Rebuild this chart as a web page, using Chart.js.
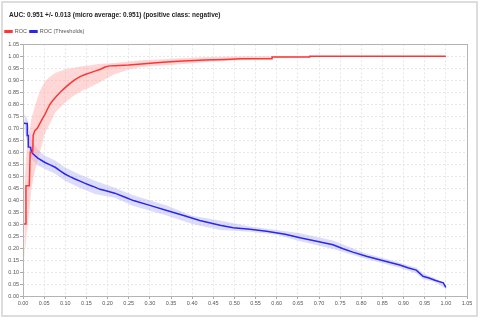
<!DOCTYPE html>
<html>
<head>
<meta charset="utf-8">
<script src="https://cdn.jsdelivr.net/npm/chart.js@4/dist/chart.umd.min.js"></script>
<style>
  html, body { margin: 0; padding: 0; background: #fff; }
  #wrap { width: 480px; height: 320px; }
</style>
</head>
<body>
<div id="wrap"><canvas id="rocChart" width="480" height="320"></canvas></div>
<script>
// ROC curve (false positive rate, true positive rate)
const rocX = [0, 0, 0.007, 0.007, 0.015, 0.017, 0.023, 0.024, 0.028, 0.034, 0.040, 0.046, 0.052, 0.058, 0.064, 0.070, 0.076, 0.088, 0.099, 0.110, 0.123, 0.135, 0.147, 0.160, 0.170, 0.182, 0.194, 0.206, 0.217, 0.250, 0.280, 0.330, 0.378, 0.430, 0.480, 0.513, 0.589, 0.589, 0.678, 0.678, 1.0];
const rocY = [0, 0.30, 0.30, 0.46, 0.46, 0.60, 0.60, 0.67, 0.69, 0.70, 0.72, 0.74, 0.758, 0.78, 0.80, 0.815, 0.827, 0.85, 0.868, 0.885, 0.903, 0.915, 0.924, 0.932, 0.938, 0.945, 0.955, 0.960, 0.961, 0.964, 0.968, 0.975, 0.980, 0.984, 0.987, 0.990, 0.990, 0.997, 0.997, 1.0, 1.0];

// ROC band (mean +/- std)
const rocBandX  = [0.003, 0.008, 0.015, 0.020, 0.028, 0.040, 0.052, 0.064, 0.076, 0.099, 0.120, 0.139, 0.160, 0.178, 0.200, 0.217, 0.250, 0.280, 0.330, 0.378, 0.450, 0.537, 0.600, 0.700, 1.0];
const rocBandLo = [0.15, 0.25, 0.35, 0.45, 0.52, 0.60, 0.68, 0.72, 0.765, 0.806, 0.835, 0.855, 0.872, 0.889, 0.910, 0.925, 0.945, 0.955, 0.962, 0.968, 0.978, 0.986, 0.993, 0.998, 1.0];
const rocBandHi = [0.45, 0.60, 0.68, 0.74, 0.79, 0.855, 0.896, 0.915, 0.930, 0.945, 0.952, 0.958, 0.963, 0.968, 0.970, 0.972, 0.978, 0.983, 0.988, 0.993, 0.997, 1.0, 1.0, 1.0, 1.0];

// ROC (Thresholds)
const thrX = [0, 0, 0.005, 0.010, 0.010, 0.0125, 0.0125, 0.018, 0.020, 0.024, 0.035, 0.052, 0.064, 0.076, 0.088, 0.099, 0.111, 0.123, 0.135, 0.147, 0.158, 0.170, 0.182, 0.194, 0.217, 0.240, 0.261, 0.300, 0.340, 0.380, 0.418, 0.466, 0.497, 0.537, 0.576, 0.620, 0.655, 0.700, 0.733, 0.757, 0.780, 0.812, 0.850, 0.891, 0.910, 0.930, 0.946, 0.960, 0.974, 0.994, 1.0];
const thrY = [1.0, 0.723, 0.72, 0.72, 0.67, 0.67, 0.622, 0.62, 0.60, 0.592, 0.575, 0.557, 0.547, 0.537, 0.522, 0.509, 0.498, 0.488, 0.479, 0.470, 0.462, 0.454, 0.445, 0.440, 0.429, 0.413, 0.398, 0.378, 0.357, 0.336, 0.315, 0.295, 0.285, 0.278, 0.270, 0.258, 0.243, 0.226, 0.214, 0.197, 0.183, 0.166, 0.148, 0.129, 0.118, 0.108, 0.082, 0.075, 0.066, 0.055, 0.036];

const thrBandX  = [0.003, 0.010, 0.020, 0.035, 0.052, 0.076, 0.099, 0.130, 0.170, 0.217, 0.261, 0.340, 0.400, 0.466, 0.537, 0.600, 0.655, 0.733, 0.810, 0.890, 0.930, 0.946, 0.974, 1.0];
const thrBandLo = [0.70, 0.64, 0.57, 0.545, 0.53, 0.51, 0.481, 0.455, 0.426, 0.410, 0.375, 0.336, 0.300, 0.275, 0.268, 0.255, 0.228, 0.196, 0.155, 0.118, 0.095, 0.070, 0.058, 0.030];
const thrBandHi = [0.76, 0.74, 0.65, 0.61, 0.585, 0.565, 0.537, 0.510, 0.481, 0.452, 0.420, 0.378, 0.335, 0.315, 0.290, 0.275, 0.262, 0.232, 0.178, 0.140, 0.118, 0.095, 0.075, 0.045];

const titleText = "AUC: 0.951 +/- 0.013 (micro average: 0.951) (positive class: negative)";
const tickStep = 0.05;
const axisMax = 1.05;

function toPoints(xs, ys) {
    return xs.map((x, i) => ({ x: x, y: ys[i] }));
}

// frame around the plot and the whole panel, title/legend indent
const framePlugin = {
    id: "frames",
    afterLayout(chart) {
        if (chart.titleBlock) chart.titleBlock.left = 9;
        if (chart.legend) chart.legend.left = 2;
    },
    beforeDraw(chart) {
        const ctx = chart.ctx;
        ctx.save();
        ctx.strokeStyle = "#dddddd";
        ctx.lineWidth = 2;
        ctx.strokeRect(2, 2, 475, 314);
        ctx.restore();
    },
    afterDatasetsDraw(chart) {
        const a = chart.chartArea;
        const ctx = chart.ctx;
        ctx.save();
        ctx.strokeStyle = "#b4b4b4";
        ctx.lineWidth = 1;
        ctx.strokeRect(Math.round(a.left) + 0.5, Math.round(a.top) + 0.5,
            Math.round(a.right - a.left), Math.round(a.bottom - a.top));
        ctx.restore();
    }
};

const font = "'Liberation Sans', Arial, sans-serif";

const axisCommon = {
    type: "linear",
    min: 0,
    max: axisMax,
    grid: { color: "#e6e6e6", tickLength: 3, tickColor: "#aaaaaa" },
    border: { display: false, dash: [2, 2] },
    ticks: {
        stepSize: tickStep,
        font: { family: font, size: 5.5 },
        color: "#555555",
        padding: 1,
        maxRotation: 0,
        autoSkip: false,
        callback: v => Number(v).toFixed(2)
    }
};

new Chart(document.getElementById("rocChart"), {
    type: "line",
    data: {
        datasets: [
            {
                label: "ROC",
                data: toPoints(rocX, rocY),
                borderColor: "#ff3535",
                backgroundColor: "#ff3535",
                borderWidth: 1.5,
                pointRadius: 0,
                fill: false,
                tension: 0
            },
            {
                label: "ROC (Thresholds)",
                data: toPoints(thrX, thrY),
                borderColor: "#2828f0",
                backgroundColor: "#2828f0",
                borderWidth: 1.5,
                pointRadius: 0,
                fill: false,
                tension: 0
            },
            {
                label: "rocHi",
                data: toPoints(rocBandX, rocBandHi),
                borderWidth: 0,
                pointRadius: 0,
                fill: false
            },
            {
                label: "rocLo",
                data: toPoints(rocBandX, rocBandLo),
                borderWidth: 0,
                pointRadius: 0,
                fill: 2,
                backgroundColor: "rgba(255, 160, 160, 0.42)"
            },
            {
                label: "thrHi",
                data: toPoints(thrBandX, thrBandHi),
                borderWidth: 0,
                pointRadius: 0,
                fill: false
            },
            {
                label: "thrLo",
                data: toPoints(thrBandX, thrBandLo),
                borderWidth: 0,
                pointRadius: 0,
                fill: 4,
                backgroundColor: "rgba(165, 165, 245, 0.38)"
            }
        ]
    },
    options: {
        responsive: false,
        animation: false,
        layout: { padding: { left: 0, right: 13, top: 0, bottom: 10 } },
        plugins: {
            title: {
                display: true,
                text: titleText,
                align: "start",
                color: "#222222",
                font: { family: "'Liberation Sans Narrow', " + font, size: 6.5, weight: "bold" },
                padding: { top: 11, bottom: 7 }
            },
            legend: {
                display: true,
                align: "start",
                labels: {
                    filter: item => item.datasetIndex < 2,
                    boxWidth: 7,
                    boxHeight: 1.5,
                    padding: 3,
                    color: "#555555",
                    font: { family: font, size: 5.5 }
                }
            },
            tooltip: { enabled: false }
        },
        scales: {
            x: Object.assign({}, axisCommon, {
                position: "bottom",
                afterFit: scale => { scale.height = 14; }
            }),
            y: Object.assign({}, axisCommon, {
                position: "left",
                afterFit: scale => { scale.width = 23; }
            })
        }
    },
    plugins: [framePlugin]
});
</script>
</body>
</html>
